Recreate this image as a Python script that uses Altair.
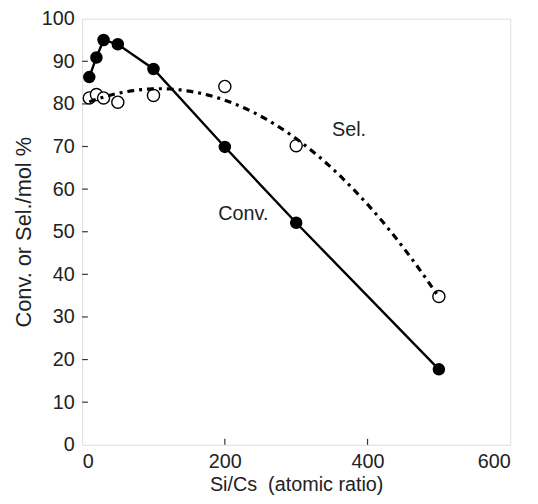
import altair as alt
import pandas as pd

# Data
si_cs = [10, 20, 30, 50, 100, 200, 300, 500]
conv = [86.3, 90.9, 95.0, 94.0, 88.2, 69.9, 52.1, 17.7]
sel = [81.4, 82.2, 81.4, 80.4, 82.0, 84.1, 70.2, 34.8]

label_text = ["Conv.", "Sel."]
label_x = [226, 374]
label_y = [54.2, 73.9]

xtick_vals = [200, 400]
ytick_vals = [10, 20, 30, 40, 50, 60, 70, 80, 90]

df = pd.DataFrame({"x": si_cs, "conv": conv, "sel": sel})
df_lab = pd.DataFrame({"t": label_text, "x": label_x, "y": label_y})
df_xt = pd.DataFrame({"v": xtick_vals, "y0": [0] * len(xtick_vals), "y1": [1.4] * len(xtick_vals)})
df_yt = pd.DataFrame({"v": ytick_vals, "x0": [0] * len(ytick_vals), "x1": [8] * len(ytick_vals)})

FONT = "Liberation Sans"

xscale = alt.Scale(domain=[0, 600], nice=False, zero=False)
yscale = alt.Scale(domain=[0, 100], nice=False, zero=False)

xaxis = alt.Axis(values=[0, 200, 400, 600], ticks=False, domain=False, grid=False,
                 labelFontSize=20, labelFont=FONT, labelColor="#222", labelPadding=7,
                 title="Si/Cs\u00a0\u00a0(atomic ratio)", titleFontSize=20, titleFont=FONT,
                 titleFontWeight="normal", titleColor="#222", titlePadding=3)
yaxis = alt.Axis(values=list(range(0, 101, 10)), ticks=False, domain=False, grid=False,
                 labelFontSize=20, labelFont=FONT, labelColor="#222", labelPadding=8,
                 title="Conv. or Sel./mol %", titleFontSize=22, titleFont=FONT,
                 titleFontWeight="normal", titleColor="#222", titlePadding=6)

base = alt.Chart(df)

conv_line = base.mark_line(color="black", strokeWidth=2.4).encode(
    x=alt.X("x:Q", scale=xscale, axis=xaxis),
    y=alt.Y("conv:Q", scale=yscale, axis=yaxis),
)
conv_pts = base.mark_circle(color="black", size=160, opacity=1).encode(
    x=alt.X("x:Q", scale=xscale), y=alt.Y("conv:Q", scale=yscale)
)
sel_pts = base.mark_point(shape="circle", filled=True, fill="white", stroke="black",
                          strokeWidth=1.4, size=150, opacity=1).encode(
    x=alt.X("x:Q", scale=xscale), y=alt.Y("sel:Q", scale=yscale)
)
sel_fit = base.transform_regression("x", "sel", method="poly", order=2).mark_line(
    color="black", strokeWidth=3.2, strokeDash=[7, 5, 3, 5]
).encode(x=alt.X("x:Q", scale=xscale), y=alt.Y("sel:Q", scale=yscale))

labels = alt.Chart(df_lab).mark_text(fontSize=20, font=FONT, color="#222").encode(
    x=alt.X("x:Q", scale=xscale), y=alt.Y("y:Q", scale=yscale), text="t:N"
)

xticks = alt.Chart(df_xt).mark_rule(color="#333", strokeWidth=1.2).encode(
    x=alt.X("v:Q", scale=xscale), y=alt.Y("y0:Q", scale=yscale), y2="y1:Q"
)
yticks = alt.Chart(df_yt).mark_rule(color="#333", strokeWidth=1.2).encode(
    y=alt.Y("v:Q", scale=yscale), x=alt.X("x0:Q", scale=xscale), x2="x1:Q"
)

chart = alt.layer(xticks, yticks, conv_line, conv_pts, sel_pts, sel_fit, labels).properties(
    width=433, height=431,
    autosize=alt.AutoSizeParams(type="none"),
    padding={"left": 75, "top": 8, "right": 20, "bottom": 49},
).configure_view(stroke="#333", strokeWidth=1.6).configure(background="white")

chart.save("out.html", embed_options={"renderer": "svg", "actions": False})
